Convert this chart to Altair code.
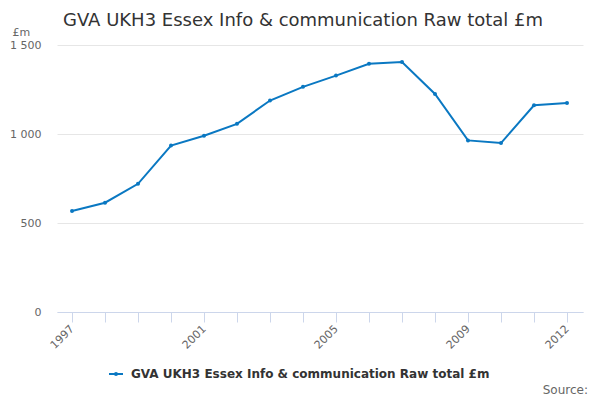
import altair as alt
import pandas as pd

years = list(range(1997, 2013))
values = [567, 614, 720, 935, 990, 1057, 1188, 1265, 1328, 1395, 1404, 1225, 964, 949, 1161, 1174]
series_name = "GVA UKH3 Essex Info & communication Raw total £m"
label_years = [1997, 2001, 2005, 2009, 2012]
y_ticks = [0, 500, 1000, 1500]

df = pd.DataFrame({"year": years, "value": values, "series": [series_name] * len(years)})

FONT = "DejaVu Sans"
LINE_COLOR = "#0a78c2"

line_symbol = "M-1,0L1,0M-0.15,0A0.15,0.15,0,1,1,0.15,0A0.15,0.15,0,1,1,-0.15,0"

line = alt.Chart(df).mark_line(
    strokeWidth=2,
    point=alt.OverlayMarkDef(size=16, filled=True),
).encode(
    x=alt.X(
        "year:Q",
        scale=alt.Scale(domain=[1996.545, 2012.485], nice=False, zero=False),
        axis=alt.Axis(
            title=None,
            values=years,
            labelExpr="indexof([" + ",".join(str(y) for y in label_years) + "], datum.value) >= 0 ? format(datum.value, 'd') : ''",
            labelAngle=-45,
            labelAlign="right",
            labelBaseline="middle",
            labelPadding=5,
            labelOverlap=False,
            labelFlush=False,
            grid=False,
            domainColor="#ccd6eb",
            tickColor="#ccd6eb",
            tickSize=10,
            labelFontSize=11,
            labelColor="#666666",
            labelFont=FONT,
        ),
    ),
    y=alt.Y(
        "value:Q",
        scale=alt.Scale(domain=[0, 1500], nice=False),
        axis=alt.Axis(
            title="£m",
            titleAngle=0,
            titleAlign="left",
            titleBaseline="middle",
            titleX=-45,
            titleY=-13,
            titleFontWeight="normal",
            titleFontSize=11,
            titleColor="#666666",
            titleFont=FONT,
            values=y_ticks,
            labelExpr="replace(format(datum.value, ','), ',', ' ')",
            domain=False,
            ticks=False,
            tickSize=0,
            labelPadding=16,
            gridColor="#e6e6e6",
            labelFontSize=11,
            labelColor="#666666",
            labelFont=FONT,
        ),
    ),
    color=alt.Color(
        "series:N",
        scale=alt.Scale(range=[LINE_COLOR]),
        legend=alt.Legend(
            title=None,
            orient="none",
            legendX=51,
            legendY=321,
            symbolType=line_symbol,
            symbolSize=196,
            symbolStrokeWidth=2,
            symbolFillColor=LINE_COLOR,
            labelFont=FONT,
            labelFontSize=12,
            labelFontWeight="bold",
            labelColor="#333333",
            labelOffset=7,
            labelLimit=0,
            padding=0,
        ),
    ),
)

source = alt.Chart(pd.DataFrame({"t": ["Source:"]})).mark_text(
    align="right", baseline="middle", font=FONT, fontSize=12, color="#666666"
).encode(
    x=alt.value(531),
    y=alt.value(345),
    text="t:N",
)

chart = alt.layer(line, source).properties(
    width=526,
    height=267,
    autosize=alt.AutoSizeParams(type="none"),
    padding={"left": 49, "top": 37, "right": 9, "bottom": 86},
    title=alt.TitleParams(
        text=series_name,
        anchor="start",
        frame="group",
        fontSize=18,
        font=FONT,
        fontWeight="normal",
        color="#333333",
        dx=6,
        dy=8,
    ),
).configure_view(stroke=None)

chart.save("out.html", embed_options={"renderer": "svg", "actions": False})
